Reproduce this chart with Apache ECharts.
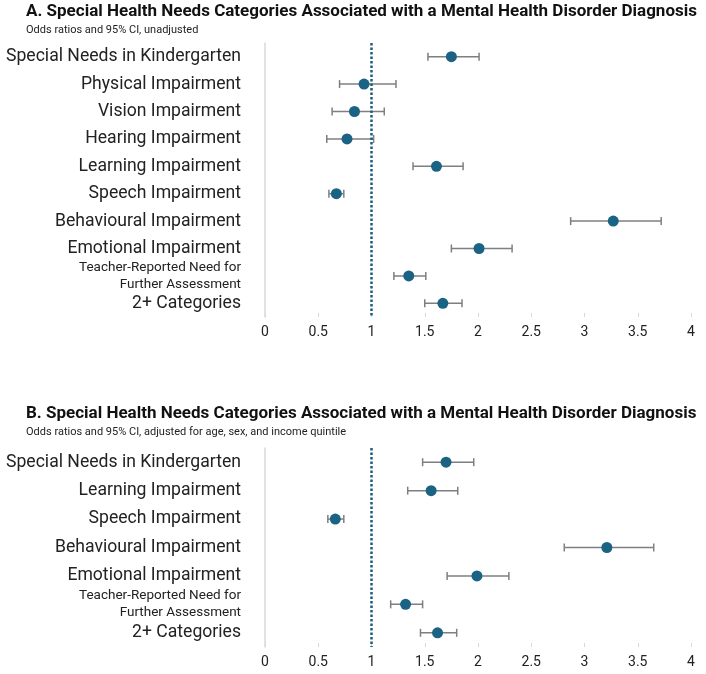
<!DOCTYPE html>
<html>
<head>
<meta charset="utf-8">
<script src="https://cdn.jsdelivr.net/npm/echarts@6/dist/echarts.min.js"></script>
<style>
  html, body { margin: 0; padding: 0; background: #fff; }
  #chart { width: 706px; height: 674px; }
</style>
</head>
<body>
<div id="chart"></div>
<script>
// panel A: unadjusted
var catsA = ['Special Needs in Kindergarten', 'Physical Impairment', 'Vision Impairment', 'Hearing Impairment',
    'Learning Impairment', 'Speech Impairment', 'Behavioural Impairment', 'Emotional Impairment',
    'Teacher-Reported Need for Further Assessment', '2+ Categories'];
var orA = [1.75, 0.93, 0.84, 0.77, 1.61, 0.67, 3.27, 2.01, 1.35, 1.67];
var lowA = [1.53, 0.70, 0.63, 0.58, 1.39, 0.60, 2.87, 1.75, 1.21, 1.50];
var highA = [2.01, 1.23, 1.12, 1.02, 1.86, 0.74, 3.72, 2.32, 1.51, 1.85];

// panel B: adjusted
var catsB = ['Special Needs in Kindergarten', 'Learning Impairment', 'Speech Impairment', 'Behavioural Impairment',
    'Emotional Impairment', 'Teacher-Reported Need for Further Assessment', '2+ Categories'];
var orB = [1.70, 1.56, 0.66, 3.21, 1.99, 1.32, 1.62];
var lowB = [1.48, 1.34, 0.59, 2.81, 1.71, 1.18, 1.46];
var highB = [1.96, 1.81, 0.74, 3.65, 2.29, 1.48, 1.80];

var xTicks = [0, 0.5, 1, 1.5, 2, 2.5, 3, 3.5, 4];

var dotColor = '#1a6385';
var barColor = '#7f7f7f';
var font = 'Roboto';

function labelFmt(v) {
    if (v.indexOf('Teacher') === 0) {
        return '{s|Teacher-Reported Need for}\n{s|Further Assessment}';
    }
    return v;
}

function yAxis(idx, cats) {
    return {
        type: 'category',
        gridIndex: idx,
        data: cats,
        inverse: true,
        axisTick: { show: false },
        axisLine: { lineStyle: { color: '#d9d9d9', width: 1.5 } },
        axisLabel: {
            color: '#222',
            fontFamily: font,
            fontSize: 17.6,
            margin: 24,
            formatter: labelFmt,
            rich: { s: { fontSize: 13.5, lineHeight: 16.5, fontFamily: font, color: '#222', align: 'right' } }
        }
    };
}

function xAxis(idx) {
    return {
        type: 'value',
        gridIndex: idx,
        min: 0,
        max: 4,
        interval: 0.5,
        splitLine: { show: false },
        axisLine: { lineStyle: { color: '#d9d9d9', width: 1.5 } },
        axisTick: { show: true, inside: true, length: 4, lineStyle: { color: '#d9d9d9' } },
        axisLabel: {
            color: '#222', fontFamily: font, fontSize: 14, margin: 8,
            formatter: function (v) { return xTicks.indexOf(v) >= 0 ? String(v) : ''; }
        }
    };
}

function errBars(idx, low, high) {
    var data = low.map(function (l, i) { return [l, high[i], i]; });
    return {
        type: 'custom',
        xAxisIndex: idx,
        yAxisIndex: idx,
        data: data,
        encode: { x: [0, 1], y: 2 },
        z: 2,
        renderItem: function (params, api) {
            var a = api.coord([api.value(0), api.value(2)]);
            var b = api.coord([api.value(1), api.value(2)]);
            var h = 4;
            var st = { stroke: barColor, lineWidth: 1.5 };
            return {
                type: 'group',
                children: [
                    { type: 'line', shape: { x1: a[0], y1: a[1], x2: b[0], y2: b[1] }, style: st },
                    { type: 'line', shape: { x1: a[0], y1: a[1] - h, x2: a[0], y2: a[1] + h }, style: st },
                    { type: 'line', shape: { x1: b[0], y1: b[1] - h, x2: b[0], y2: b[1] + h }, style: st }
                ]
            };
        }
    };
}

function points(idx, vals) {
    return {
        type: 'scatter',
        xAxisIndex: idx,
        yAxisIndex: idx,
        data: vals.map(function (v, i) { return [v, i]; }),
        symbolSize: 11,
        itemStyle: { color: dotColor, opacity: 1 },
        z: 3,
        markLine: {
            silent: true,
            symbol: 'none',
            label: { show: false },
            lineStyle: { color: '#1b5e80', type: [2.5, 2], width: 2.5 },
            data: [{ xAxis: 1 }]
        }
    };
}

var titleStyle = { fontFamily: font, fontSize: 17, fontWeight: 'bold', color: '#111' };
var subStyle = { fontFamily: font, fontSize: 11, fontWeight: 'normal', color: '#222' };

var chart = echarts.init(document.getElementById('chart'));
chart.setOption({
    animation: false,
    backgroundColor: '#fff',
    title: [
        { text: 'A. Special Health Needs Categories Associated with a Mental Health Disorder Diagnosis',
          left: 26, top: 3, padding: 0, textStyle: titleStyle },
        { text: 'Odds ratios and 95% CI, unadjusted',
          left: 26, top: 25, padding: 0, textStyle: subStyle },
        { text: 'B. Special Health Needs Categories Associated with a Mental Health Disorder Diagnosis',
          left: 26, top: 405, padding: 0, textStyle: titleStyle },
        { text: 'Odds ratios and 95% CI, adjusted for age, sex, and income quintile',
          left: 26, top: 427, padding: 0, textStyle: subStyle }
    ],
    grid: [
        { left: 265, top: 43, width: 426, height: 274 },
        { left: 265, top: 448, width: 426, height: 199 }
    ],
    xAxis: [xAxis(0), xAxis(1)],
    yAxis: [yAxis(0, catsA), yAxis(1, catsB)],
    series: [
        errBars(0, lowA, highA),
        points(0, orA),
        errBars(1, lowB, highB),
        points(1, orB)
    ]
});
</script>
</body>
</html>
